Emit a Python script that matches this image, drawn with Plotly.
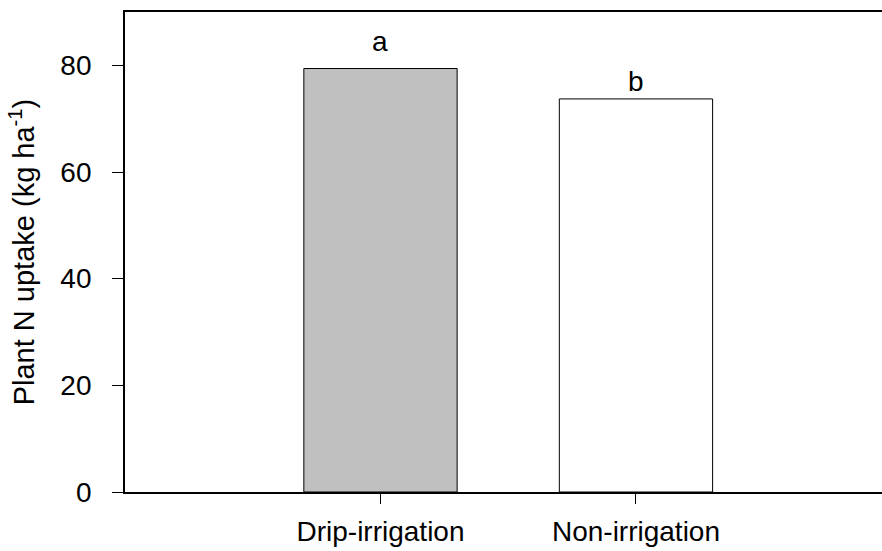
import plotly.graph_objects as go

# Plant N uptake by irrigation treatment
treatments = ["Drip-irrigation", "Non-irrigation"]
n_uptake = [79.4, 73.7]
letters = ["a", "b"]
y_ticks = [0, 20, 40, 60, 80]

# styling
bar_colors = ["#C0C0C0", "#FFFFFF"]
letter_shift_px = [27, 17]

positions = [1, 2]
font = "Liberation Sans, Arial, sans-serif"

fig = go.Figure()
fig.add_trace(go.Bar(
    x=positions,
    y=n_uptake,
    width=0.6,
    marker=dict(color=bar_colors, line=dict(color="black", width=1)),
    showlegend=False,
    hoverinfo="skip",
))

for xpos, val, letter, shift in zip(positions, n_uptake, letters, letter_shift_px):
    fig.add_annotation(
        x=xpos, y=val, text=letter, showarrow=False,
        yanchor="middle", yshift=shift,
        font=dict(family=font, size=28, color="black"),
    )

fig.update_layout(
    width=882, height=551,
    margin=dict(l=125, r=0, t=12, b=59),
    plot_bgcolor="white", paper_bgcolor="white",
    font=dict(family=font, size=28, color="black"),
)
fig.update_xaxes(
    range=[0, 2.963],
    tickvals=positions, ticktext=treatments,
    ticks="outside", ticklen=10, tickwidth=1.3, tickcolor="black",
    ticklabelstandoff=3,
    showline=True, linecolor="black", linewidth=1.8, mirror=True,
    showgrid=False, zeroline=False,
    tickfont=dict(family=font, size=28),
)
fig.update_yaxes(
    range=[0, 90],
    tickvals=y_ticks,
    ticks="outside", ticklen=11, tickwidth=1.3, tickcolor="black",
    ticklabelstandoff=15,
    showline=True, linecolor="black", linewidth=1.8, mirror=False,
    showgrid=False, zeroline=False,
    tickfont=dict(family=font, size=28),
    title=dict(text="Plant N uptake (kg ha<sup>-1</sup>)",
               font=dict(family=font, size=29), standoff=17),
)

fig.write_html("out.html")
